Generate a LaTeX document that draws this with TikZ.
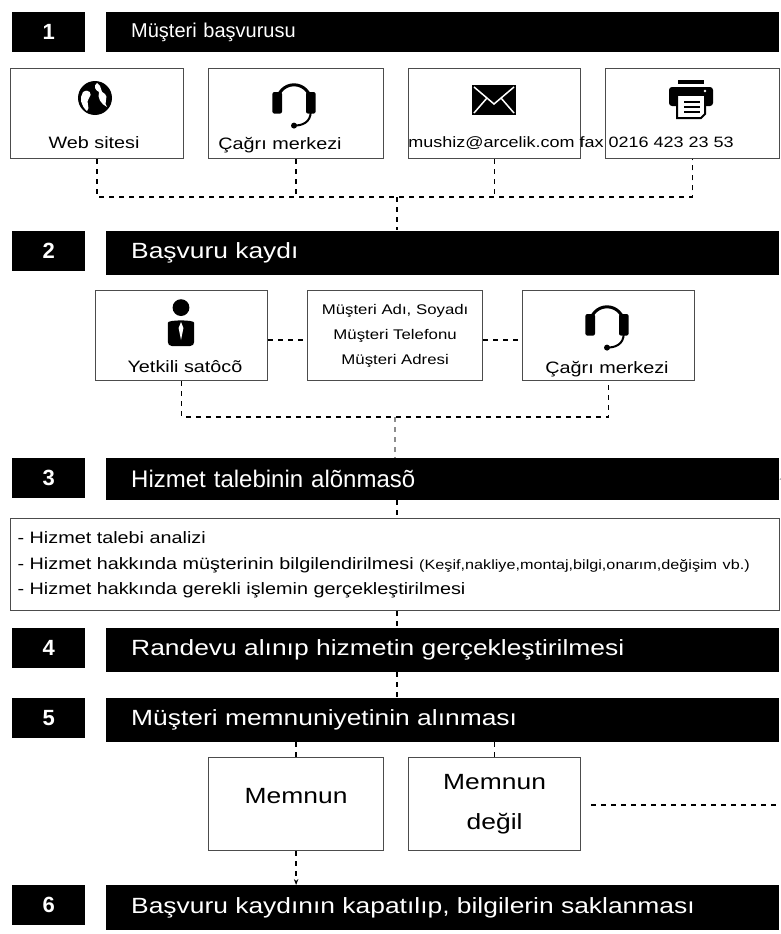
\documentclass[tikz,border=0pt]{standalone}
\usepackage{fontspec}
\setmainfont{Liberation Sans}
\newfontfamily\widefont[FakeStretch=1.2]{Liberation Sans}
\usetikzlibrary{positioning,arrows.meta}

\tikzset{
  numbox/.style={fill=black, text=white, font=\bfseries\fontsize{22}{22}\selectfont,
    minimum width=73pt, minimum height=40pt, anchor=north west, inner sep=0pt},
  bar/.style={fill=black, text=white, font=\widefont\fontsize{22}{22}\selectfont, anchor=north west,
    minimum height=40pt, text width=623pt, inner xsep=25pt, inner ysep=0pt, align=left},
  card/.style={draw=black!70, line width=1.2pt, fill=white, anchor=north west, inner sep=0pt},
  cardlabel/.style={font=\widefont\fontsize{16.5}{16.5}\selectfont},
  link/.style={line width=1.3pt, dash pattern=on 5pt off 5pt},
  pics/headset/.style={code={
    \draw[line width=3pt] (-14,8) arc (180:360:14);
    \fill[rounded corners=2pt] (-18,0) rectangle (-10,18);
    \fill[rounded corners=2pt] (10,0) rectangle (18,18);
    \draw[line width=2pt] (14,16) .. controls (14,26) and (6,28) .. (0,28);
    \fill (0,28) circle (2.5);
  }},
  pics/globe/.style={code={
    \fill (0,0) circle (17);
    \fill[white] (-12,-6) .. controls (-6,-10) and (-2,-4) .. (-6,0) .. controls (-10,4) and (-4,10) .. (-8,13)
      .. controls (-14,8) and (-16,0) .. cycle;
    \fill[white] (2,-15) .. controls (8,-12) and (4,-6) .. (10,-4) .. controls (14,-2) and (8,6) .. (12,9)
      .. controls (6,6) and (2,0) .. (4,-6) .. controls (0,-8) and (-2,-12) .. cycle;
  }},
  pics/envelope/.style={code={
    \fill (-22,-15) rectangle (22,15);
    \draw[white, line width=1.5pt] (-20,-13) -- (0,4) -- (20,-13);
    \draw[white, line width=1.5pt] (-20,13) -- (-7,-2);
    \draw[white, line width=1.5pt] (20,13) -- (7,-2);
  }},
  pics/printer/.style={code={
    \fill (-13,-20) rectangle (13,-16);
    \fill[rounded corners=3pt] (-22,-13) rectangle (22,6);
    \fill[white] (-14,-4) rectangle (14,18);
    \draw[line width=2pt] (-14,-4) -- (-14,18) -- (10,18) -- (14,14) -- (14,-4);
    \foreach \yy in {2,7,12} \draw[line width=1.5pt] (-7,\yy) -- (9,\yy);
    \fill[white] (14,-9) circle (1.3);
  }},
  pics/person/.style={code={
    \fill (0,-12) circle (7);
    \fill[rounded corners=4pt] (-11,20) -- (-11,4) .. controls (-11,-2) and (11,-2) .. (11,4) -- (11,20) -- cycle;
    \fill[white] (0,0) -- (2,5) -- (0,15) -- (-2,5) -- cycle;
  }}
}

\begin{document}
\begin{tikzpicture}[x=1pt, y=-1pt]
  \useasboundingbox (0,0) rectangle (781,934);

  % Step 1
  \node[numbox] (n1) at (12,12) {1};
  \node[bar, font=\fontsize{20}{20}\selectfont] (b1) at (106,12) {Müşteri başvurusu};
  \node[card, minimum width=173pt, minimum height=90pt] (c11) at (10,68) {};
  \node[card, minimum width=175pt, minimum height=90pt] (c12) at (208,68) {};
  \node[card, minimum width=172pt, minimum height=90pt] (c13) at (408,68) {};
  \node[card, minimum width=174pt, minimum height=90pt] (c14) at (605,68) {};
  \pic at (95,98) {globe};
  \pic[scale=1.2] at (294,92) {headset};
  \pic at (494,100) {envelope};
  \pic at (691,100) {printer};
  \node[cardlabel] (l11) at (94,143) {Web sitesi};
  \node[cardlabel] (l12) at (280,145) {Çağrı merkezi};
  \node[cardlabel, font=\widefont\fontsize{15}{15}\selectfont, inner sep=0pt] (l13) at (571,143)
    {mushiz@arcelik.com fax 0216 423 23 53};
  \coordinate (j1) at (397,197);
  \draw[link] (c11.south) |- (c14.south |- j1) -- (c14.south);
  \draw[link] (c12.south) -- (c12.south |- j1);
  \draw[link] (c13.south) -- (c13.south |- j1);
  \draw[link] (j1) -- (j1 |- 230,230);

  % Step 2
  \node[numbox] (n2) at (12,231) {2};
  \node[bar, minimum height=44pt] (b2) at (106,231) {Başvuru kaydı};
  \node[card, minimum width=172pt, minimum height=90pt] (c21) at (95,290) {};
  \node[card, minimum width=175pt, minimum height=90pt, align=center,
        font=\widefont\fontsize{14}{25}\selectfont] (c22) at (307,290)
        {Müşteri Adı, Soyadı\\Müşteri Telefonu\\Müşteri Adresi};
  \node[card, minimum width=172pt, minimum height=90pt] (c23) at (522,290) {};
  \pic[scale=1.2] at (181,322) {person};
  \pic[scale=1.2] at (607,314) {headset};
  \node[cardlabel] (l21) at (185,367) {Yetkili satôcõ};
  \node[cardlabel] (l23) at (607,369) {Çağrı merkezi};
  \draw[link] (c21.east |- 0,340) -- (c22.west |- 0,340);
  \draw[link] (c22.east |- 0,340) -- (c23.west |- 0,340);
  \coordinate (j2) at (395,417);
  \draw[link] (c21.south) |- (c23.south |- j2) -- (c23.south);
  \draw[link, black!45] (j2) -- (j2 |- 458,458);

  % Step 3
  \node[numbox] (n3) at (12,458) {3};
  \node[bar, minimum height=42pt, font=\fontsize{24}{24}\selectfont] (b3) at (106,458) {Hizmet talebinin alõnmasõ};
  \coordinate (ret) at (781,479);
  \draw[-{Stealth[length=6pt]}, black!60, line width=1pt] (ret) -- (b3.east);
  \node[card, minimum width=769pt, minimum height=92pt, text width=755pt, align=left,
        inner xsep=7pt, font=\widefont\fontsize{16.5}{16.5}\selectfont] (t3) at (10,518)
    {- Hizmet talebi analizi\\[10pt]
     - Hizmet hakkında müşterinin bilgilendirilmesi {\fontsize{13.5}{13.5}\selectfont (Keşif,nakliye,montaj,bilgi,onarım,değişim vb.)}\\[8pt]
     - Hizmet hakkında gerekli işlemin gerçekleştirilmesi};
  \draw[link] (b3.south -| 397,0) -- (t3.north -| 397,0);

  % Step 4
  \node[numbox] (n4) at (12,628) {4};
  \node[bar, minimum height=44pt] (b4) at (106,628) {Randevu alınıp hizmetin gerçekleştirilmesi};
  \draw[link] (t3.south -| 397,0) -- (b4.north -| 397,0);

  % Step 5
  \node[numbox] (n5) at (12,698) {5};
  \node[bar, minimum height=44pt] (b5) at (106,698) {Müşteri memnuniyetinin alınması};
  \draw[link] (b4.south -| 397,0) -- (b5.north -| 397,0);
  \node[card, minimum width=175pt, minimum height=93pt] (m1) at (208,757) {};
  \node[card, minimum width=172pt, minimum height=93pt, align=center,
        font=\widefont\fontsize{22}{40}\selectfont] (m2) at (408,757) {Memnun\\değil};
  \node[font=\widefont\fontsize{22}{22}\selectfont] (m1t) at (m1.center |- 0,796) {Memnun};
  \draw[link] (b5.south -| m1.center) -- (m1.north);
  \draw[link] (b5.south -| m2.center) -- (m2.north);
  \coordinate (out) at (781,805);
  \draw[link] ([xshift=10pt]m2.east |- out) -- (out);

  % Step 6
  \node[numbox] (n6) at (12,885) {6};
  \node[bar, minimum height=45pt] (b6) at (106,885) {Başvuru kaydının kapatılıp, bilgilerin saklanması};
  \draw[link, -{Stealth[length=6pt]}] (m1.south) -- (b6.north -| m1.south);
\end{tikzpicture}
\end{document}
